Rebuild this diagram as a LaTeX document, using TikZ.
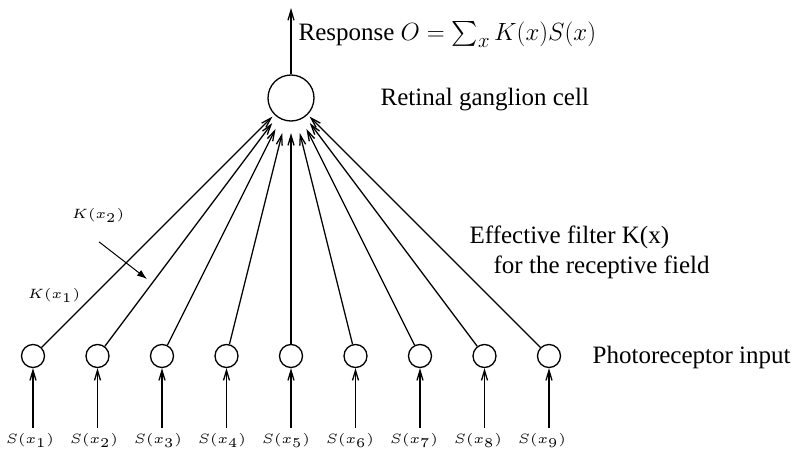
\documentclass[tikz,border=0pt]{standalone}
\usepackage{amsmath}
\usepackage{fontspec}
\setmainfont{Liberation Serif}
\usetikzlibrary{arrows.meta,calc}
\tikzset{
  cell/.style={draw,circle,inner sep=0pt},
  vee/.style={-{Straight Barb[length=10pt,width=6pt]}},
  lab/.style={font=\fontsize{5}{6}\selectfont,scale=2.7,transform shape},
  txt/.style={anchor=base west,inner sep=0pt,font=\fontsize{25}{30}\selectfont}
}
\begin{document}
\begin{tikzpicture}[x=1pt,y=-1pt,line width=1.3pt]
\useasboundingbox (0,0) rectangle (804,450);
\node[cell,minimum size=46pt] (gc) at (291,98) {};
\coordinate (out) at (291,8);
\draw[vee] (gc) -- (out);
\node[txt] (resp) at (298,40) {Response {\fontsize{28.5}{32}\selectfont$O=\sum_x K(x)S(x)$}};
\node[txt] (gclab) at (380,105) {Retinal ganglion cell};
\node[txt] (filt1) at (469,243) {Effective filter K(x)};
\node[txt] (filt2) at (493,273) {for the receptive field};
\node[txt] (phot) at (592,363) {Photoreceptor input};
% photoreceptors and their weights
\foreach \i/\x/\f/\l in {1/33/0.072/30,2/97.5/0.097/94,3/162/0.12/158,4/226.5/0.136/222,5/291/0.136/286,
                        6/355.5/0.136/350,7/420/0.12/414,8/484.5/0.097/478,9/549/0.072/542} {
  \node[cell,minimum size=23pt] (p\i) at (\x,356) {};
  \coordinate (s\i) at (\x,428);
  \draw[vee] (s\i) -- (p\i);
  \node[lab] (sl\i) at (\l,440) {$S(x_{\i})$};
  \coordinate (t\i) at ($(gc.center)!\f!(p\i.center)$);
  \draw[vee] (p\i) -- (t\i);
}
\node[lab] (k1) at (54,295) {$K(x_1)$};
\node[lab] (k2) at (98,215) {$K(x_2)$};
\coordinate (k2tip) at (147,279);
\draw[line width=1pt,-{Latex[length=10pt,width=7pt]}] (k2.south) ++(1,9) -- (k2tip);
\end{tikzpicture}
\end{document}
